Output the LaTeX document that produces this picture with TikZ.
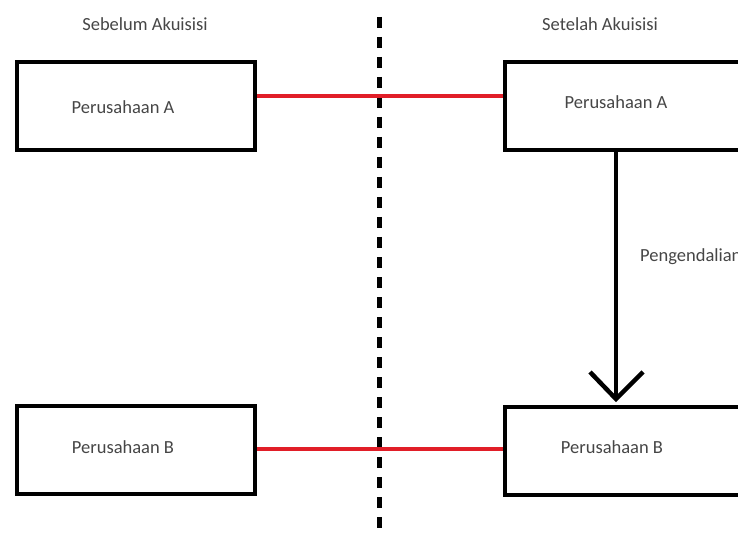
\documentclass[tikz,border=0pt]{standalone}
\usepackage{fontspec}
\setmainfont{Carlito}
\definecolor{txt}{RGB}{70,70,70}
\definecolor{redline}{RGB}{225,30,40}
\tikzset{
  box/.style={draw=black, line width=4.5pt, fill=white, minimum height=88pt, inner sep=0pt},
  lbox/.style={box, minimum width=238pt},
  rbox/.style={box, minimum width=300pt},
  lbl/.style={text=txt, font=\fontsize{18.5}{22}\selectfont, inner sep=0pt},
  redconn/.style={draw=redline, line width=4pt},
  divider/.style={draw=black, line width=5pt, dash pattern=on 11pt off 9pt},
  ctrl/.style={draw=black, line width=4.5pt}
}
\begin{document}
\begin{tikzpicture}[x=1pt,y=-1pt]
\useasboundingbox (0,0) rectangle (738,537);
\fill[white] (0,0) rectangle (738,537);
\clip (0,0) rectangle (738,537);
% divider
\coordinate (dtop) at (379,17);
\coordinate (dbot) at (379,537);
\draw[divider] (dtop) -- (dbot);
% titles
\node[lbl] (t1) at (145,24) {Sebelum Akuisisi};
\node[lbl] (t2) at (600,24) {Setelah Akuisisi};
% boxes
\node[lbox] (la) at (136,106) {};
\node[lbox] (lb) at (136,450) {};
\node[rbox] (ra) at (655,106) {};
\node[rbox] (rb) at (655,451) {};
% labels in boxes
\node[lbl] (lat) at (123,107) {Perusahaan A};
\node[lbl] (lbt) at (123,447) {Perusahaan B};
\node[lbl] (rat) at (616,102) {Perusahaan A};
\node[lbl] (rbt) at (612,447) {Perusahaan B};
% red connectors
\draw[redconn] (la.east |- 0,96) -- (ra.west |- 0,96);
\draw[redconn] (lb.east |- 0,449) -- (rb.west |- 0,449);
% control arrow
\coordinate (tip) at (616,399);
\draw[ctrl] (ra.south -| tip) -- (tip);
\draw[ctrl, line join=miter] (590,372) -- (tip) -- (643,372);
\node[lbl, anchor=west] (peng) at (640,257) {Pengendalian};
\end{tikzpicture}
\end{document}
